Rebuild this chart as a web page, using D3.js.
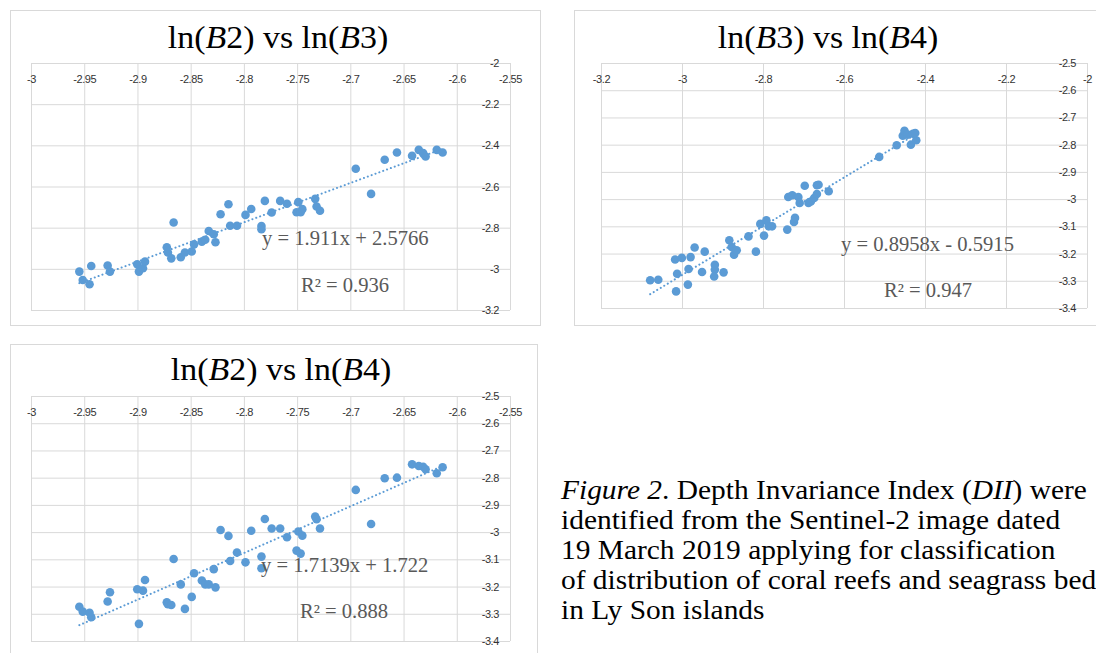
<!DOCTYPE html>
<html>
<head>
<meta charset="utf-8">
<script src="https://cdn.jsdelivr.net/npm/d3@7"></script>
<style>
  body { margin: 0; background: #fff; }
  svg { display: block; }
  .tick text { font-family: "Liberation Sans", Arial, sans-serif; font-size: 11px; fill: #333; letter-spacing: -0.4px; }
  .grid line { stroke: #d9d9d9; stroke-width: 1; }
  .domain { display: none; }
</style>
</head>
<body>
<svg id="fig" width="1096" height="653"></svg>
<script>
// ln(B2), shared by the B2-B3 and B2-B4 charts
const lnB2 = [-2.9546, -2.9434, -2.9514, -2.945, -2.928, -2.9258, -2.9002, -2.8986, -2.8948, -2.8929,
  -2.8724, -2.8714, -2.8682, -2.866, -2.8593, -2.8554, -2.849, -2.8468, -2.8395, -2.8363,
  -2.833, -2.8283, -2.8267, -2.8219, -2.8145, -2.8129, -2.8065, -2.7985, -2.7931, -2.7835,
  -2.7835, -2.7803, -2.7739, -2.7659, -2.7595, -2.7489, -2.7505, -2.7467, -2.7451, -2.733,
  -2.7317, -2.7285, -2.6949, -2.6805, -2.6677, -2.6562, -2.642, -2.6357, -2.6316, -2.6293,
  -2.6188, -2.6133];
const lnB3 = [-3.0135, -2.986, -3.054, -3.075, -2.984, -3.0135, -2.978, -3.0135, -2.997, -2.965,
  -2.895, -2.921, -2.949, -2.775, -2.944, -2.921, -2.916, -2.881, -2.868, -2.859,
  -2.816, -2.832, -2.871, -2.735, -2.686, -2.791, -2.791, -2.738, -2.709, -2.792,
  -2.808, -2.670, -2.726, -2.670, -2.684, -2.676, -2.725, -2.725, -2.710, -2.660,
  -2.697, -2.718, -2.514, -2.636, -2.470, -2.435, -2.451, -2.422, -2.438, -2.454,
  -2.422, -2.435];
const lnB4 = [-3.274, -3.313, -3.292, -3.296, -3.255, -3.221, -3.210, -3.337, -3.215, -3.176,
  -3.258, -3.265, -3.268, -3.099, -3.192, -3.282, -3.238, -3.151, -3.178, -3.192,
  -3.192, -3.136, -3.203, -2.992, -3.014, -3.106, -3.075, -3.111, -2.995, -3.090,
  -3.133, -2.952, -2.987, -2.987, -3.019, -2.998, -3.068, -3.079, -3.013, -2.943,
  -2.953, -2.987, -2.845, -2.970, -2.802, -2.800, -2.751, -2.757, -2.760, -2.769,
  -2.784, -2.762];

// B3 vs B4 chart
const b3b4X = [-3.0786, -3.0586, -3.0146, -3.017, -3.0004, -3.012, -2.9855, -2.9838, -2.9788, -2.9688,
  -2.9505, -2.9439, -2.9189, -2.9189, -2.9206, -2.8973, -2.8832, -2.8773, -2.8715, -2.8649,
  -2.8358, -2.8175, -2.8067, -2.7975, -2.7917, -2.7859, -2.7776, -2.7401, -2.7376, -2.7277,
  -2.7235, -2.721, -2.7127, -2.7094, -2.6969, -2.6877, -2.6819, -2.6736, -2.6669, -2.6669,
  -2.6628, -2.6378, -2.5131, -2.4699, -2.4549, -2.4507, -2.4432, -2.4349, -2.4299, -2.4216,
  -2.4241];
const b3b4Y = [-3.298, -3.296, -3.339, -3.222, -3.216, -3.274, -3.314, -3.257, -3.213, -3.178,
  -3.268, -3.193, -3.241, -3.259, -3.284, -3.269, -3.151, -3.176, -3.204, -3.188,
  -3.137, -3.193, -3.091, -3.134, -3.078, -3.100, -3.100, -3.112, -2.992, -2.986,
  -3.084, -3.069, -2.992, -3.014, -2.951, -3.014, -3.009, -2.996, -2.981, -2.949,
  -2.947, -2.971, -2.845, -2.802, -2.767, -2.749, -2.763, -2.800, -2.760, -2.784,
  -2.757];

const ticksB2 = [-3, -2.95, -2.9, -2.85, -2.8, -2.75, -2.7, -2.65, -2.6, -2.55];
const ticksB3y = [-2, -2.2, -2.4, -2.6, -2.8, -3, -3.2];
const ticksB3x = [-3.2, -3, -2.8, -2.6, -2.4, -2.2, -2];
const ticksB4 = [-2.5, -2.6, -2.7, -2.8, -2.9, -3, -3.1, -3.2, -3.3, -3.4];

const fits = [
  { slope: 1.911, icpt: 2.5766, eq: "y = 1.911x + 2.5766", r2: "R\u00b2 = 0.936" },
  { slope: 0.8958, icpt: -0.5915, eq: "y = 0.8958x - 0.5915", r2: "R\u00b2 = 0.947" },
  { slope: 1.7139, icpt: 1.722, eq: "y = 1.7139x + 1.722", r2: "R\u00b2 = 0.888" }
];

const captionLines = [
  [["Figure 2", true], [". Depth Invariance Index (", false], ["DII", true], [") were", false]],
  [["identified from the Sentinel-2 image dated", false]],
  [["19 March 2019 applying for classification", false]],
  [["of distribution of coral reefs and seagrass bed", false]],
  [["in Ly Son islands", false]]
];

const BLUE = "#5b9bd5";
const SERIF = "'Liberation Serif', 'Times New Roman', serif";
const svg = d3.select("#fig");
const fmt = (v) => String(+v.toFixed(2));

// text drawn a bit wider than the font, the source picture is stretched sideways
function wideText(parent, x, y, sx, anchor) {
  return parent.append("g")
    .attr("transform", `translate(${x},${y}) scale(${sx},1)`)
    .append("text")
    .attr("text-anchor", anchor || "start")
    .style("font-family", SERIF);
}

function scatter(cfg) {
  const g = svg.append("g");

  g.append("rect")
    .attr("x", cfg.box[0] + 0.5).attr("y", cfg.box[1] + 0.5)
    .attr("width", cfg.box[2]).attr("height", cfg.box[3])
    .attr("fill", "#fff").attr("stroke", "#d9d9d9");

  const x = d3.scaleLinear().domain(d3.extent(cfg.xTicks)).range([cfg.plot.left, cfg.plot.right]);
  const y = d3.scaleLinear().domain(d3.extent(cfg.yTicks)).range([cfg.plot.bottom, cfg.plot.top]);
  const h = cfg.plot.bottom - cfg.plot.top,
        w = cfg.plot.right - cfg.plot.left;

  // grid
  g.append("g").attr("class", "grid")
    .attr("transform", `translate(0,${cfg.plot.top})`)
    .call(d3.axisBottom(x).tickValues(cfg.xTicks).tickSize(h).tickFormat(""));
  g.append("g").attr("class", "grid")
    .attr("transform", `translate(${cfg.plot.left},0)`)
    .call(d3.axisRight(y).tickValues(cfg.yTicks).tickSize(w).tickFormat(""));

  // labels: x along the top edge, y along the right edge (Excel crosses at max)
  g.append("g")
    .attr("transform", `translate(0,${cfg.plot.top})`)
    .call(d3.axisBottom(x).tickValues(cfg.xTicks).tickSize(0).tickPadding(12).tickFormat(fmt));
  g.append("g")
    .attr("transform", `translate(${cfg.plot.right},0)`)
    .call(d3.axisLeft(y).tickValues(cfg.yTicks).tickSize(0).tickPadding(11).tickFormat(fmt));

  const pts = cfg.xs.map((v, i) => [v, cfg.ys[i]]);

  // trendline over the data range
  const [x0, x1] = d3.extent(cfg.xs);
  const line = d3.line().x((d) => x(d)).y((d) => y(cfg.fit.slope * d + cfg.fit.icpt));
  g.append("path")
    .attr("d", line([x0, x1]))
    .attr("fill", "none").attr("stroke", BLUE)
    .attr("stroke-width", 2).attr("stroke-dasharray", "0.1 4").attr("stroke-linecap", "round");

  g.selectAll("circle.pt").data(pts).enter().append("circle")
    .attr("class", "pt")
    .attr("cx", (d) => x(d[0])).attr("cy", (d) => y(d[1]))
    .attr("r", 4.3).attr("fill", BLUE);

  // title
  const t = wideText(g, cfg.title[0], cfg.title[1], 1.06, "middle")
    .style("font-size", "32px").attr("fill", "#000");
  cfg.titleParts.forEach(([s, it]) => t.append("tspan").text(s).style("font-style", it ? "italic" : "normal"));

  wideText(g, cfg.eq[0], cfg.eq[1], 1.03).style("font-size", "20px").attr("fill", "#595959").text(cfg.fit.eq);
  wideText(g, cfg.r2[0], cfg.r2[1], 1.03).style("font-size", "20px").attr("fill", "#595959").text(cfg.fit.r2);
}

scatter({
  box: [10, 10, 530, 315],
  plot: { left: 31, right: 510, top: 63, bottom: 310 },
  xTicks: ticksB2, yTicks: ticksB3y, xs: lnB2, ys: lnB3, fit: fits[0],
  title: [278, 48], titleParts: [["ln(", 0], ["B", 1], ["2) vs ln(", 0], ["B", 1], ["3)", 0]],
  eq: [262, 245], r2: [301, 292]
});

scatter({
  box: [574, 10, 540, 315],
  plot: { left: 601, right: 1087, top: 63, bottom: 308 },
  xTicks: ticksB3x, yTicks: ticksB4, xs: b3b4X, ys: b3b4Y, fit: fits[1],
  title: [828, 48], titleParts: [["ln(", 0], ["B", 1], ["3) vs ln(", 0], ["B", 1], ["4)", 0]],
  eq: [841, 251], r2: [884, 297]
});

scatter({
  box: [10, 344, 527, 320],
  plot: { left: 31, right: 510, top: 396, bottom: 641 },
  xTicks: ticksB2, yTicks: ticksB4, xs: lnB2, ys: lnB4, fit: fits[2],
  title: [281, 380], titleParts: [["ln(", 0], ["B", 1], ["2) vs ln(", 0], ["B", 1], ["4)", 0]],
  eq: [261, 572], r2: [300, 618]
});

// caption
const cap = svg.append("g").attr("transform", "translate(561,0) scale(1.09,1)")
  .append("text")
  .style("font-family", SERIF)
  .style("font-size", "27px").attr("fill", "#000");
captionLines.forEach((parts, i) => {
  parts.forEach(([s, it], j) => {
    const sp = cap.append("tspan").text(s).style("font-style", it ? "italic" : "normal");
    if (j === 0) sp.attr("x", 0).attr("y", 499 + i * 30);
  });
});
</script>
</body>
</html>
